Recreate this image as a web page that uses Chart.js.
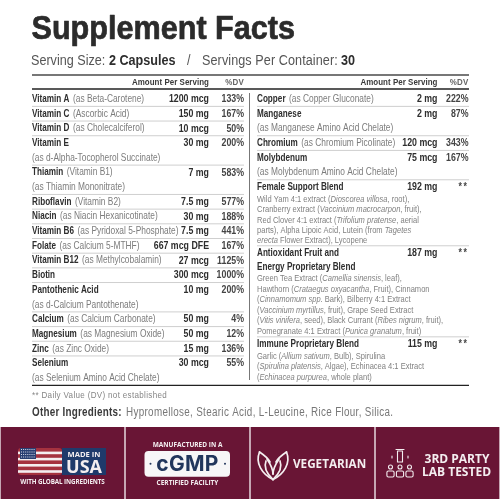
<!DOCTYPE html>
<html><head><meta charset="utf-8">
<style>html,body{margin:0;padding:0;background:#fff}canvas{display:block}</style>
<script src="https://cdn.jsdelivr.net/npm/chart.js@4"></script></head>
<body><canvas id="c" width="500" height="500"></canvas>
<script>
const title = "Supplement Facts";
const servingSize = "2 Capsules";
const servingsPerContainer = "30";
const headerAmount = "Amount Per Serving";
const headerDV = "%DV";
const leftNames = ["Vitamin A","Vitamin C","Vitamin D","Vitamin E","Thiamin","Riboflavin","Niacin","Vitamin B6","Folate","Vitamin B12","Biotin","Pantothenic Acid","Calcium","Magnesium","Zinc","Selenium"];
const leftSources = ["(as Beta-Carotene)","(Ascorbic Acid)","(as Cholecalciferol)","","(Vitamin B1)","(Vitamin B2)","(as Niacin Hexanicotinate)","(as Pyridoxal 5-Phosphate)","(as Calcium 5-MTHF)","(as Methylcobalamin)","","","(as Calcium Carbonate)","(as Magnesium Oxide)","(as Zinc Oxide)",""];
const leftSecondLines = ["","","","(as d-Alpha-Tocopherol Succinate)","(as Thiamin Mononitrate)","","","","","","","(as d-Calcium Pantothenate)","","","","(as Selenium Amino Acid Chelate)"];
const leftAmounts = ["1200 mcg","150 mg","10 mcg","30 mg","7 mg","7.5 mg","30 mg","7.5 mg","667 mcg DFE","27 mcg","300 mcg","10 mg","50 mg","50 mg","15 mg","30 mcg"];
const leftDV = ["133%","167%","50%","200%","583%","577%","188%","441%","167%","1125%","1000%","200%","4%","12%","136%","55%"];
const rightNames = ["Copper","Manganese","Chromium","Molybdenum","Female Support Blend","Antioxidant Fruit and","Immune Proprietary Blend"];
const rightSources = ["(as Copper Gluconate)","","(as Chromium Picolinate)","","","",""];
const rightSecondLines = ["","(as Manganese Amino Acid Chelate)","","(as Molybdenum Amino Acid Chelate)","","Energy Proprietary Blend",""];
const rightAmounts = ["2 mg","2 mg","120 mcg","75 mcg","192 mg","187 mg","115 mg"];
const rightDV = ["222%","87%","343%","167%","**","**","**"];
const rightDetails = [[],[],[],[],
 ["Wild Yam 4:1 extract (_Dioscorea villosa_, root),","Cranberry extract (_Vaccinium macrocarpon_, fruit),","Red Clover 4:1 extract (_Trifolium pratense_, aerial","parts), Alpha Lipoic Acid, Lutein (from _Tagetes_","_erecta_ Flower Extract), Lycopene"],
 ["Green Tea Extract (_Camellia sinensis_, leaf),","Hawthorn (_Crataegus oxyacantha_, Fruit), Cinnamon","(_Cinnamomum spp._ Bark), Bilberry 4:1 Extract","(_Vaccinium myrtillus_, fruit), Grape Seed Extract","(_Vitis vinifera_, seed), Black Currant (_Ribes nigrum_, fruit),","Pomegranate 4:1 Extract (_Punica granatum_, fruit)"],
 ["Garlic (_Allium sativum_, Bulb), Spirulina","(_Spirulina platensis_, Algae), Echinacea 4:1 Extract","(_Echinacea purpurea_, whole plant)"]];
const footnote = "** Daily Value (DV) not established";
const otherLabel = "Other Ingredients:";
const otherText = "Hypromellose, Stearic Acid, L-Leucine, Rice Flour, Silica.";
const badges = ["Made in USA","cGMP","Vegetarian","Lab tested"];
const badgeExtent = [[427,499],[427,499],[427,499],[427,499]];

const FACE = '"Liberation Sans"';
const SX_REG = 0.79, SX_NAME = 0.77, SX_AMT = 0.80, SX_SMALL = 0.82, SX_HEAD = 0.9;
const DARK = '#2e2e2e', MID = '#7c7c7c', MAROON = '#691535';

const tablePlugin = { id:'label', afterDatasetsDraw(chart){
  const c = chart.ctx, X = v=>chart.scales.x.getPixelForValue(v), Y = v=>chart.scales.y.getPixelForValue(v);
  function text(s,x,y,font,color,align='left',spacing=0,sx=1,stroke=0){
    c.save();c.translate(X(x),Y(y));c.scale(sx,1);
    c.font=font;c.fillStyle=color;c.textAlign=align;c.textBaseline='alphabetic';
    c.letterSpacing=spacing+'px';c.fillText(s,0,0);
    if(stroke){c.strokeStyle=color;c.lineWidth=stroke;c.lineJoin='round';c.strokeText(s,0,0);}
    c.restore();
  }
  function width(s,font,sx){c.save();c.font=font;const w=c.measureText(s).width*sx;c.restore();return w;}
  function rule(x0,x1,y,color,w){c.strokeStyle=color;c.lineWidth=w;c.beginPath();c.moveTo(X(x0),Y(y));c.lineTo(X(x1),Y(y));c.stroke();}
  const bold=s=>`bold ${s}px ${FACE}`, reg=s=>`${s}px ${FACE}`;
  const name=(s,x,y)=>text(s,x,y,bold(10.6),DARK,'left',0,SX_NAME);
  const note=(s,x,y)=>text(s,x,y,reg(10.6),MID,'left',0,SX_REG);
  const amt=(s,x,y,col)=>text(s,x,y,bold(11),col,'right',s==='**'?2:0,SX_AMT);

  // header
  text(title,31.5,39.2,'bold 34px "Liberation Sans"','#2b2b2b','left',0,0.9,0.7);
  text("Serving Size:",31,64.5,reg(14),'#555','left',0,SX_HEAD);
  text(servingSize,109,64.5,bold(14),DARK,'left',0,SX_HEAD);
  text("/",187,64.5,reg(14),'#555','left',0,SX_HEAD);
  text("Servings Per Container:",202,64.5,reg(14),'#555','left',0.1,SX_HEAD);
  text(servingsPerContainer,341,64.5,bold(14),DARK,'left',0,SX_HEAD);
  rule(32,469,75,'#777',2);
  rule(32,469,89,'#222',1.3);
  [[209,244],[437.5,468.5]].forEach(([a,d])=>{
    text(headerAmount,a,85,bold(9.7),'#3a3a3a','right',0.05,0.82);
    text(headerDV,d,85,bold(9.7),'#666','right',0.3,0.82);
  });
  rule(249.5,249.5,93,'#777',1); 
  c.strokeStyle='#777';c.lineWidth=1;c.beginPath();c.moveTo(X(249.5),Y(93));c.lineTo(X(249.5),Y(380));c.stroke();

  const SEP='#cfcfcf';
  // left column
  const pitch=14.68; let y=99;
  leftNames.forEach((n,i)=>{
    if(i) rule(32,244,y-7.3,SEP,1);
    name(n,32,y+3);
    if(leftSources[i]) note(leftSources[i],32+width(n,bold(10.6),SX_NAME)+3.5,y+3);
    amt(leftAmounts[i],209,y+3.2,DARK);
    amt(leftDV[i],244,y+3.2,'#444');
    y+=pitch;
    if(leftSecondLines[i]){note(leftSecondLines[i],32,y+3);y+=pitch;}
  });
  // right column
  y=99;
  rightNames.forEach((n,i)=>{
    if(i) rule(257,469,y-7.3,SEP,1);
    name(n,257,y+3);
    if(rightSources[i]) note(rightSources[i],257+width(n,bold(10.6),SX_NAME)+3.5,y+3);
    amt(rightAmounts[i],437.5,y+3.2,DARK);
    amt(rightDV[i],468.5,y+3.2,'#444');
    const details=rightDetails[i];
    if(rightSecondLines[i]){
      const isBold=n.startsWith('Antiox');
      y+= isBold ? 13.6 : pitch;
      (isBold?name:note)(rightSecondLines[i],257,y+3);
    }
    if(details.length){
      y+=11.6;
      details.forEach((l,k)=>{
        let x=257; l.split('_').forEach((seg,j)=>{
          const f=(j%2?'italic ':'')+`9.2px ${FACE}`;
          text(seg,x,y+3,f,'#808080','left',0,SX_SMALL); x+=width(seg,f,SX_SMALL);
        });
        if(k<details.length-1) y+=10.45;
      });
      y+= i===rightNames.length-1?0:(i===4?12.6:13.6);
    } else { y+=pitch; }
  });
  rule(32,469,385.3,'#222',1.2);
  text(footnote,32,397.8,reg(9.8),'#858585','left',0.4,0.82);
  text(otherLabel,32,416,bold(12),'#3a3a3a','left',0.3,0.82);
  text(otherText,126,416,reg(12),'#777','left',0.4,0.82);

  // badge 1: flag + USA
  const W='#f4eef0';
  c.fillStyle='#a5323f';c.beginPath();c.roundRect(X(18),Y(448),44,27,3);c.fill();
  c.fillStyle=W;for(let k=0;k<4;k++){c.fillRect(X(18),Y(451.6+k*6.2),44,2.6);}
  c.fillStyle='#2a3f72';c.fillRect(X(20),Y(448),16,11);
  c.fillStyle='#d9dcea';for(let a=0;a<7;a++)for(let b=0;b<4;b++){c.fillRect(X(21+a*2.1),Y(449+b*2.5),1,1);}
  c.fillStyle='#1f3a6b';c.fillRect(X(62),Y(448),44,27);
  text("MADE IN",84,456.5,'bold 7.6px "Open Sans"',W,'center');
  text("USA",84,472.5,'bold 18px "Open Sans"',W,'center');
  text("WITH GLOBAL INGREDIENTS",62.5,484,'bold 6.3px "Open Sans"',W,'center',-0.12);
  // badge 2: cGMP
  text("MANUFACTURED IN A",187.5,447.3,'bold 6.5px "Open Sans"',W,'center');
  c.fillStyle='#f7f6f7';c.beginPath();c.roundRect(X(144.5),Y(451),85.5,25.7,4);c.fill();
  text("cGMP",187.5,470.5,'bold 21px Inter','#22365c','center',0.3);
  c.fillStyle='#22365c';[150.5,225].forEach(x=>{c.beginPath();c.arc(X(x),Y(463.7),1,0,7);c.fill();});
  text("CERTIFIED FACILITY",187.5,484.7,'bold 6.5px "Open Sans"',W,'center');
  // badge 3: vegetarian
  c.strokeStyle=W;c.lineWidth=1.7;c.lineJoin='round';c.lineCap='round';
  const leaf=(pts)=>{c.beginPath();c.moveTo(X(pts[0]),Y(pts[1]));for(let p=2;p<pts.length;p+=6)c.bezierCurveTo(X(pts[p]),Y(pts[p+1]),X(pts[p+2]),Y(pts[p+3]),X(pts[p+4]),Y(pts[p+5]));c.stroke();};
  leaf([273,479.5, 262,474, 255,463, 259.5,452]);
  leaf([259.5,452, 264,455, 268,458, 270,462]);
  leaf([273,479.5, 284,474, 291,463, 286.5,452]);
  leaf([286.5,452, 282,455, 278,458, 276,462]);
  leaf([273,479.5, 265,472, 264,466, 266,461]);
  leaf([273,479.5, 281,472, 282,466, 280,461]);
  leaf([273,474, 273,468, 269,462, 267,459]);
  leaf([273,474, 273,468, 277,462, 279,459]);
  text("VEGETARIAN",293,468.3,'bold 11.7px "Open Sans"',W,'left',0);
  // badge 4: lab
  c.lineWidth=1.1;c.strokeRect(X(397.5),Y(451),5,11);c.beginPath();c.moveTo(X(396),Y(449.5));c.lineTo(X(404),Y(449.5));c.stroke();
  c.beginPath();c.moveTo(X(392),Y(456));c.lineTo(X(392),Y(458));c.moveTo(X(408),Y(456));c.lineTo(X(408),Y(458));c.stroke();
  [390.5,400,409.5].forEach(x=>{c.beginPath();c.arc(X(x),Y(467),2,0,7);c.stroke();c.beginPath();c.roundRect(X(x-3.6),Y(471),7.2,6,1.5);c.stroke();});
  text("3RD PARTY",457,462.5,'bold 12px "Open Sans"',W,'center');
  text("LAB TESTED",456.5,475.5,'bold 12px "Open Sans"',W,'center');
}};

new Chart(document.getElementById('c'),{
  type:'bar',
  data:{labels:badges,datasets:[{data:badgeExtent,backgroundColor:MAROON,borderWidth:0,xAxisID:'xb',yAxisID:'y',barPercentage:1,categoryPercentage:0.99}]},
  options:{responsive:false,animation:false,maintainAspectRatio:false,layout:{padding:0},
    plugins:{legend:{display:false},tooltip:{enabled:false},title:{display:false}},
    scales:{
      xb:{type:'category',display:false,offset:true},
      x:{type:'linear',display:false,min:0,max:500,offset:false},
      y:{type:'linear',display:false,min:0,max:500,reverse:true}
    }},
  plugins:[tablePlugin]
});
</script></body></html>
